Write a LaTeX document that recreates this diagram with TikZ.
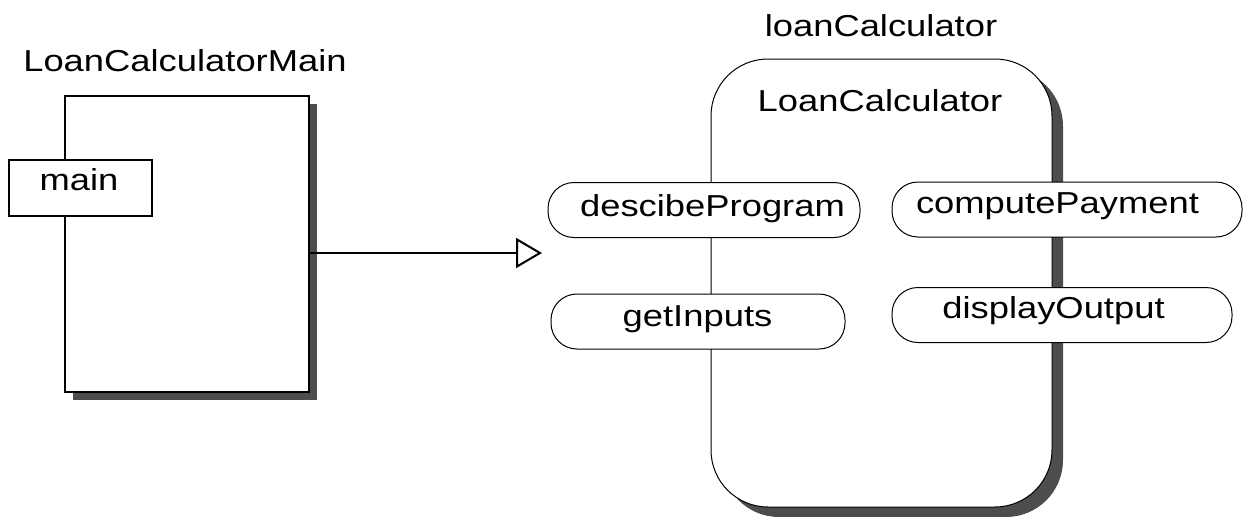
\documentclass[tikz,border=0pt]{standalone}
\usepackage{fontspec}
\setmainfont[FakeStretch=1.2]{Liberation Sans}
\usetikzlibrary{arrows.meta,shadows}
\definecolor{shadowgray}{HTML}{4D4D4D}
\begin{document}
\begin{tikzpicture}[x=1pt,y=-1pt,
  every node/.style={inner sep=0pt,outer sep=0pt},
  lbl/.style={anchor=base,font=\fontsize{30.3pt}{36pt}\selectfont},
  module/.style={draw,line width=2pt,fill=white,rectangle,
    drop shadow={shadow xshift=7.5pt,shadow yshift=-7.5pt,fill=shadowgray,opacity=1}},
  funcbox/.style={draw,line width=1.6pt,fill=white,rectangle},
  object/.style={draw,line width=1pt,fill=white,rectangle,rounded corners=57pt,
    drop shadow={shadow xshift=11pt,shadow yshift=-10pt,fill=shadowgray,opacity=1}},
  pill/.style={draw,line width=1pt,fill=white,rectangle,rounded corners=26pt,minimum height=55pt},
  conn/.style={line width=2pt,-{Triangle[open,length=26pt,width=30pt,line width=2pt]}}
]
\useasboundingbox (0,0) rectangle (1243,517);

% module LoanCalculatorMain with its function main
\node[lbl] (tmain) at (185,71.7) {LoanCalculatorMain};
\node[module,minimum width=244pt,minimum height=296pt] (lcm) at (187,244) {};
\node[funcbox,minimum width=143pt,minimum height=56pt] (mainf) at (80.5,188) {};
\node[lbl] (tmainf) at (79,190.7) {main};

% object loanCalculator of class LoanCalculator
\node[lbl] (tobj) at (881,36) {loanCalculator};
\node[object,minimum width=341pt,minimum height=448pt] (lc) at (881.5,283) {};
\node[lbl] (tcls) at (880,111.7) {LoanCalculator};

% methods
\node[pill,minimum width=312pt] (dp) at (704,210) {};
\node[lbl] (tdp) at (712.5,216.7) {descibeProgram};
\node[pill,minimum width=294pt] (gi) at (698,321.5) {};
\node[lbl] (tgi) at (697.5,326.7) {getInputs};
\node[pill,minimum width=350pt] (cp) at (1067,209.5) {};
\node[lbl] (tcp) at (1057.5,213.3) {computePayment};
\node[pill,minimum width=340pt] (do) at (1062,315) {};
\node[lbl] (tdo) at (1053.5,318.3) {displayOutput};

% usage connector
\coordinate (tip) at (542,253);
\draw[conn] (lcm.east |- tip) -- (tip);
\end{tikzpicture}
\end{document}
